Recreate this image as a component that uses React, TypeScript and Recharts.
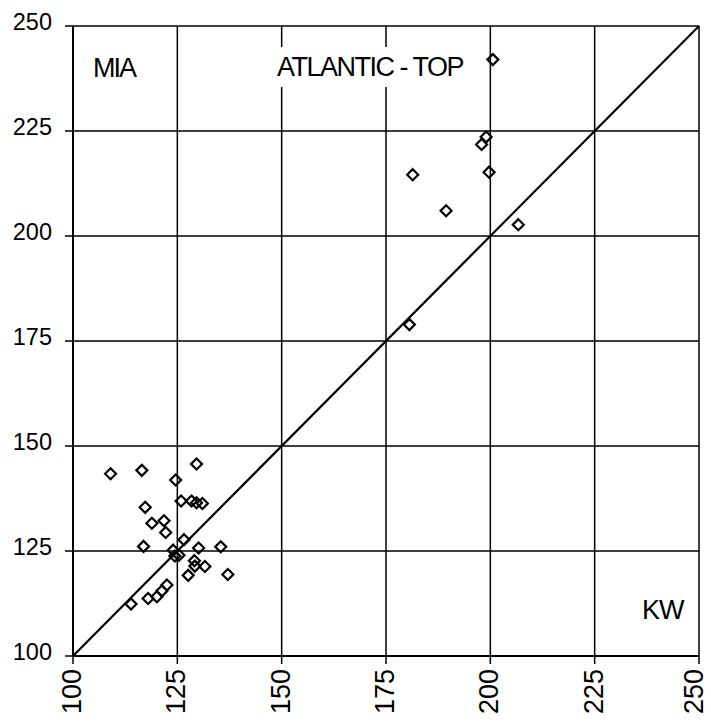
import React from 'react';
import {
  ScatterChart, Scatter, XAxis, YAxis, CartesianGrid, ReferenceLine, Customized,
} from 'recharts';

// KW reading (x) against MIA reading (y)
const kwValues = [
  109.0, 116.5, 129.6, 124.6, 117.3, 125.9, 128.4, 129.6, 131.0, 118.9,
  121.8, 122.2, 116.9, 126.6, 124.0, 124.4, 125.4, 130.1, 135.4, 129.1,
  129.2, 131.6, 127.6, 137.1, 122.5, 121.3, 120.1, 118.0, 113.9,
  180.6, 200.6, 199.0, 197.9, 181.4, 199.7, 189.4, 206.7,
];
const miaValues = [
  143.4, 144.2, 145.7, 141.9, 135.4, 136.9, 136.9, 136.5, 136.3, 131.6,
  132.2, 129.4, 126.1, 127.7, 125.2, 123.8, 124.0, 125.7, 126.0, 122.7,
  121.4, 121.3, 119.2, 119.4, 116.9, 115.5, 114.1, 113.7, 112.4,
  178.9, 242.0, 223.6, 221.8, 214.6, 215.2, 206.0, 202.7,
];
const axisTicks = [100, 125, 150, 175, 200, 225, 250];
const equalityLine = [100, 250];

const FONT = '"Liberation Sans", Arial, sans-serif';

const points = kwValues.map((kw, i) => ({ kw, mia: miaValues[i] }));

const Diamond = (props: any) => {
  const { cx, cy } = props;
  const r = 5.5;
  return (
    <path
      d={`M${cx},${cy - r}L${cx + r},${cy}L${cx},${cy + r}L${cx - r},${cy}Z`}
      fill="none"
      stroke="#000"
      strokeWidth={2.2}
    />
  );
};

const YTick = (props: any) => {
  const { x, y, payload } = props;
  return (
    <text x={x} y={y - 4} textAnchor="end" dominantBaseline="central"
      fontFamily={FONT} fontSize={23.5} fill="#000">
      {payload.value}
    </text>
  );
};

const XTick = (props: any) => {
  const { x, y, payload } = props;
  // keep the last label inside the page edge
  const tx = Math.min(x - 1, 694);
  return (
    <text x={tx} y={y} textAnchor="end" dominantBaseline="central"
      transform={`rotate(-90, ${tx}, ${y})`}
      fontFamily={FONT} fontSize={27} fill="#000">
      {payload.value}
    </text>
  );
};

const Labels = () => (
  <g fontFamily={FONT} fontSize={27} fill="#000">
    <text x={93} y={77} letterSpacing={-2}>MIA</text>
    <rect x={271} y={47} width={202} height={40} fill="#fff" />
    <text x={277} y={76} letterSpacing={-1.5}>ATLANTIC - TOP</text>
    <text x={642} y={619} letterSpacing={-1}>KW</text>
  </g>
);

export default function App() {
  return (
    <div style={{ position: 'absolute', left: 0, top: 0, background: '#fff' }}>
      <ScatterChart width={711} height={723} margin={{ top: 26, right: 12, left: 0, bottom: 0 }}>
        <CartesianGrid stroke="#000" strokeWidth={1.5} />
        <XAxis
          type="number"
          dataKey="kw"
          domain={[100, 250]}
          ticks={axisTicks}
          height={67}
          tickSize={8}
          tickMargin={5}
          axisLine={{ stroke: '#000', strokeWidth: 2 }}
          tickLine={{ stroke: '#000', strokeWidth: 1.5 }}
          tick={<XTick />}
          interval={0}
        />
        <YAxis
          type="number"
          dataKey="mia"
          domain={[100, 250]}
          ticks={axisTicks}
          width={73}
          tickSize={8}
          tickMargin={13}
          axisLine={{ stroke: '#000', strokeWidth: 2 }}
          tickLine={{ stroke: '#000', strokeWidth: 1.5 }}
          tick={<YTick />}
          interval={0}
        />
        <Customized component={Labels} />
        <ReferenceLine
          segment={[
            { x: equalityLine[0], y: equalityLine[0] },
            { x: equalityLine[1], y: equalityLine[1] },
          ]}
          stroke="#000"
          strokeWidth={2.2}
        />
        <Scatter data={points} shape={<Diamond />} isAnimationActive={false} />
      </ScatterChart>
    </div>
  );
}
